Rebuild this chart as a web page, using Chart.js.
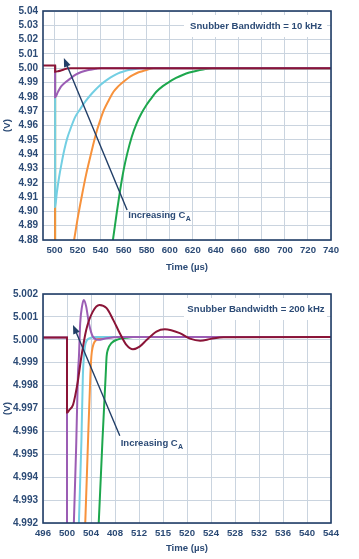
<!DOCTYPE html>
<html lang="en">
<head>
<meta charset="UTF-8"/>
<title>Snubber bandwidth step response</title>
<style>
  body { margin: 0; background: #fff; }
  canvas { position: absolute; left: 0; }
  #top { top: 0; }
  #bottom { top: 280px; }
</style>
</head>
<body>
<canvas id="top" width="359" height="279"></canvas>
<canvas id="bottom" width="359" height="279"></canvas>
<script src="https://cdn.jsdelivr.net/npm/chart.js@4.4.1/dist/chart.umd.min.js"></script>
<script>
// ---- top chart: snubber bandwidth 10 kHz (time µs, volts) ----
const topXTicks = [500, 520, 540, 560, 580, 600, 620, 640, 660, 680, 700, 720, 740];
const topYTicks = [4.88, 4.89, 4.90, 4.91, 4.92, 4.93, 4.94, 4.95, 4.96, 4.97, 4.98, 4.99, 5.00, 5.01, 5.02, 5.03, 5.04];

const top10Maroon = [[490, 5.002], [500.5, 5.002], [500.5, 4.9976], [503, 4.9979], [505.6, 4.9984], [508, 4.9991], [511, 4.9998], [514, 5.0], [740, 5.0]];
const top10Purple = [[500.5, 5.002], [500.5, 4.9797], [503, 4.9835], [505.6, 4.9871], [510, 4.9905], [514, 4.993], [518, 4.9953], [522.7, 4.9972], [527, 4.9983], [531.3, 4.999], [536, 4.9996], [540, 5.0], [740, 5.0]];
const top10Cyan = [[500.5, 5.002], [500.5, 4.903], [502, 4.913], [504, 4.924], [506, 4.933], [508.5, 4.943], [511, 4.951], [514, 4.958], [518, 4.966], [522.7, 4.972], [527, 4.977], [531.3, 4.9813], [535.5, 4.985], [539.8, 4.9883], [544, 4.991], [548.4, 4.9934], [553, 4.9955], [557, 4.997], [561, 4.998], [565.5, 4.9989], [570, 4.9995], [575, 5.0], [740, 5.0]];
const top10Orange = [[500.5, 5.002], [500.5, 4.86], [514, 4.866], [517, 4.88], [520.5, 4.897], [524, 4.912], [527.5, 4.926], [531.3, 4.939], [534, 4.948], [537, 4.957], [540, 4.9645], [542.7, 4.9705], [547, 4.9775], [551.2, 4.9836], [555.5, 4.9875], [559.8, 4.9906], [564, 4.9932], [568.3, 4.9953], [572.5, 4.997], [576.9, 4.9981], [581, 4.9991], [586, 5.0], [740, 5.0]];
const top10Green = [[500.5, 5.002], [500.5, 4.86], [547.5, 4.863], [550.7, 4.88], [554, 4.899], [557, 4.915], [560, 4.929], [563, 4.94], [567, 4.952], [571.3, 4.9615], [575.5, 4.9685], [579.8, 4.9743], [584, 4.979], [588.4, 4.9836], [594, 4.9875], [599.8, 4.9906], [605.5, 4.9932], [611.2, 4.9953], [617, 4.997], [622.7, 4.9981], [629, 4.9991], [637, 5.0], [740, 5.0]];

// ---- bottom chart: snubber bandwidth 200 kHz ----
const botXTicks = [496, 500, 504, 508, 512, 516, 520, 524, 528, 532, 536, 540, 544];
const botXLabels = ['496', '500', '504', '408', '512', '515', '520', '524', '528', '532', '536', '540', '544'];
const botYTicks = [4.992, 4.993, 4.994, 4.995, 4.996, 4.997, 4.998, 4.999, 5.000, 5.001, 5.002];

const bot200Maroon = [[496, 5.0001], [500, 5.0001], [500, 4.99682], [500.4, 4.99694], [501, 4.99716], [501.4, 4.9976], [501.8, 4.99818], [502.4, 4.99927], [503.2, 5.00043], [504.3, 5.00123], [505.4, 5.00152], [506.6, 5.00138], [507.7, 5.00087], [508.8, 5.00029], [509.9, 4.99978], [511, 4.99959], [512.1, 4.9997], [513.3, 5.0], [514.9, 5.00036], [516.3, 5.00046], [518.8, 5.00029], [520.5, 5.00005], [522.2, 4.99996], [524, 5.00004], [526.1, 5.00011], [544, 5.00012]];
const bot200Purple = [[496, 5.0001], [500, 5.0001], [500, 4.99], [501, 4.9915], [501.15, 4.99207], [501.55, 4.99556], [501.82, 4.99847], [501.99, 4.99927], [502.2, 5.00072], [502.5, 5.00145], [502.8, 5.00174], [503.2, 5.00145], [503.65, 5.00072], [504.3, 5.00014], [505.2, 5.0], [506.6, 5.00007], [508.8, 5.00012], [544, 5.00012]];
const bot200Cyan = [[500, 5.0001], [500, 4.99], [501.8, 4.9911], [501.99, 4.99207], [502.4, 4.99556], [502.65, 4.99847], [502.82, 4.99927], [503.1, 4.99985], [503.8, 5.00007], [504.9, 5.00012], [544, 5.00012]];
const bot200Orange = [[500, 5.0001], [500, 4.99], [502.9, 4.9912], [503.05, 4.99207], [503.5, 4.99556], [503.9, 4.99847], [504.06, 4.99927], [504.3, 4.9997], [504.9, 5.0], [506, 5.00007], [507.7, 5.00012], [544, 5.00012]];
const bot200Green = [[500, 5.0001], [500, 4.99], [505.1, 4.9911], [505.3, 4.99207], [505.9, 4.99556], [506.45, 4.99847], [506.6, 4.99927], [506.8, 4.99956], [507.4, 4.99985], [508.5, 5.00002], [509.9, 5.00009], [511, 5.00012], [544, 5.00012]];

const seriesColors = ['#8a1437', '#9b5db4', '#73cfe3', '#f7923c', '#1da74d'];
const navy = '#213e67';
const textBlue = '#2c4b76';
const gridColor = '#cad4df';
const fontFamily = "'Liberation Sans', Arial, sans-serif";

function drawArrow(ctx, x1, y1, x2, y2) {
  const ang = Math.atan2(y2 - y1, x2 - x1);
  const hl = 9, hw = 3.5;
  ctx.save();
  ctx.strokeStyle = navy; ctx.fillStyle = navy; ctx.lineWidth = 1.4;
  ctx.beginPath();
  ctx.moveTo(x1, y1);
  ctx.lineTo(x2 - Math.cos(ang) * hl * 0.8, y2 - Math.sin(ang) * hl * 0.8);
  ctx.stroke();
  ctx.beginPath();
  ctx.moveTo(x2, y2);
  ctx.lineTo(x2 - Math.cos(ang) * hl - Math.sin(ang) * hw, y2 - Math.sin(ang) * hl + Math.cos(ang) * hw);
  ctx.lineTo(x2 - Math.cos(ang) * hl + Math.sin(ang) * hw, y2 - Math.sin(ang) * hl - Math.cos(ang) * hw);
  ctx.closePath();
  ctx.fill();
  ctx.restore();
}

function notesPlugin(o) {
  return {
    id: 'notes',
    beforeDatasetsDraw(chart) {
      const {ctx, chartArea: a} = chart;
      ctx.save();
      ctx.fillStyle = '#fff';
      ctx.fillRect(a.right - 147, a.top + 4, 143, 22);
      ctx.fillStyle = textBlue;
      ctx.font = 'bold 9.6px ' + fontFamily;
      ctx.textAlign = 'center';
      ctx.textBaseline = 'middle';
      ctx.fillText(o.label, a.right - 75, a.top + 15.5);
      ctx.restore();
    },
    afterDatasetsDraw(chart) {
      const {ctx} = chart;
      const sx = chart.scales.x, sy = chart.scales.y;
      drawArrow(ctx, sx.getPixelForValue(o.tail[0]), sy.getPixelForValue(o.tail[1]),
        sx.getPixelForValue(o.head[0]), sy.getPixelForValue(o.head[1]));
      const tx = sx.getPixelForValue(o.text[0]), ty = sy.getPixelForValue(o.text[1]);
      ctx.save();
      ctx.fillStyle = textBlue;
      ctx.textBaseline = 'middle';
      ctx.textAlign = 'left';
      ctx.font = 'bold 9.5px ' + fontFamily;
      ctx.fillText('Increasing C', tx, ty);
      const w = ctx.measureText('Increasing C').width;
      ctx.font = 'bold 7px ' + fontFamily;
      ctx.fillText('A', tx + w + 0.3, ty + 3);
      ctx.restore();
    },
    afterDraw(chart) {
      const {ctx, chartArea: a} = chart;
      ctx.save();
      ctx.strokeStyle = navy;
      ctx.lineWidth = 1.6;
      ctx.strokeRect(a.left, a.top, a.right - a.left, a.bottom - a.top);
      ctx.restore();
    }
  };
}

function makeChart(id, series, o) {
  const datasets = series.map((pts, i) => ({
    data: pts.map(p => ({x: p[0], y: p[1]})),
    borderColor: seriesColors[i],
    borderWidth: 2,
    pointRadius: 0,
    cubicInterpolationMode: 'monotone',
    fill: false
  }));
  const tickFont = {family: fontFamily, size: 9.6, weight: 'bold'};
  return new Chart(document.getElementById(id), {
    type: 'line',
    data: {datasets},
    options: {
      responsive: false,
      animation: false,
      devicePixelRatio: 1,
      layout: {padding: {top: o.padTop, right: 28, left: 0, bottom: 0}},
      plugins: {legend: {display: false}, tooltip: {enabled: false}},
      scales: {
        x: {
          type: 'linear', min: o.xMin, max: o.xMax,
          afterBuildTicks: s => { s.ticks = o.xTicks.map(v => ({value: v})); },
          afterFit: s => { s.height = o.xHeight; },
          grid: {color: gridColor, lineWidth: 1, drawTicks: false},
          border: {display: false},
          ticks: {padding: 4.5, color: textBlue, font: tickFont, maxRotation: 0, autoSkip: false,
            callback: (v, i) => o.xLabels[i]},
          title: {display: true, text: 'Time (µs)', color: textBlue, font: tickFont,
            padding: {top: 0, bottom: o.titlePad}}
        },
        y: {
          min: o.yMin, max: o.yMax,
          afterBuildTicks: s => { s.ticks = o.yTicks.map(v => ({value: v})); },
          afterFit: s => { s.width = 43; },
          grid: {color: gridColor, lineWidth: 1, drawTicks: false},
          border: {display: false},
          ticks: {padding: 5, color: textBlue, font: {family: fontFamily, size: 10, weight: 'bold'},
            autoSkip: false, callback: v => v.toFixed(o.yDigits)},
          title: {display: true, text: '(V)', color: textBlue, font: tickFont, padding: {top: 2, bottom: 0}}
        }
      }
    },
    plugins: [notesPlugin(o)]
  });
}

makeChart('top', [top10Maroon, top10Purple, top10Cyan, top10Orange, top10Green], {
  padTop: 11, xHeight: 39, titlePad: 6,
  xMin: 490, xMax: 740, xTicks: topXTicks, xLabels: topXTicks.map(String),
  yMin: 4.88, yMax: 5.04, yTicks: topYTicks, yDigits: 2,
  label: 'Snubber Bandwidth = 10 kHz',
  tail: [563, 4.901], head: [508.1, 5.0072], text: [564.1, 4.897]
});

makeChart('bottom', [bot200Maroon, bot200Purple, bot200Cyan, bot200Orange, bot200Green], {
  padTop: 14, xHeight: 36, titlePad: 4.7,
  xMin: 496, xMax: 544, xTicks: botXTicks, xLabels: botXLabels,
  yMin: 4.992, yMax: 5.002, yTicks: botYTicks, yDigits: 3,
  label: 'Snubber Bandwidth = 200 kHz',
  tail: [508.8, 4.99581], head: [501.0, 5.00065], text: [508.95, 4.99546]
});
</script>
</body>
</html>
